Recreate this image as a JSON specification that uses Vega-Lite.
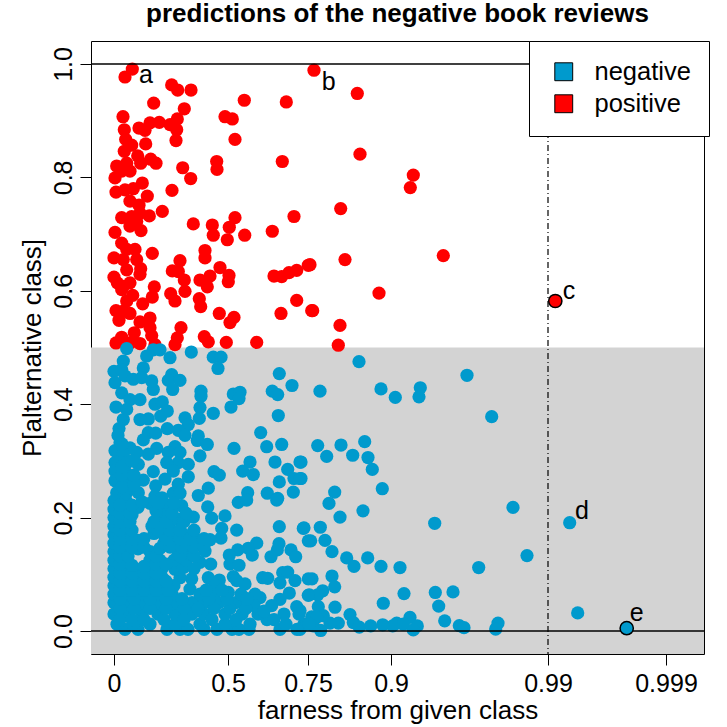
{"$schema":"https://vega.github.io/schema/vega-lite/v6.json","width":613,"height":613,"autosize":{"type":"none"},"padding":{"left":91,"top":41,"right":23,"bottom":73},"background":"white","title":{"text":"predictions of the negative book reviews","font":"Liberation Sans","fontSize":26,"fontWeight":"bold","color":"black","anchor":"middle","offset":13},
"config":{"view":{"stroke":"black","strokeWidth":1},"font":"Liberation Sans"},
"datasets":{"reviews":[
{"far":18.3,"p":0.991,"cls":"positive"},{"far":11,"p":0.977,"cls":"positive"},{"far":57.7,"p":0.963,"cls":"positive"},{"far":63.7,"p":0.954,"cls":"positive"},{"far":77,"p":0.954,"cls":"positive"},{"far":39.7,"p":0.931,"cls":"positive"},{"far":130.3,"p":0.936,"cls":"positive"},{"far":172.3,"p":0.933,"cls":"positive"},{"far":70.3,"p":0.921,"cls":"positive"},{"far":9,"p":0.907,"cls":"positive"},{"far":111,"p":0.907,"cls":"positive"},{"far":118.3,"p":0.903,"cls":"positive"},{"far":63.3,"p":0.903,"cls":"positive"},{"far":56,"p":0.893,"cls":"positive"},{"far":45.3,"p":0.897,"cls":"positive"},{"far":36,"p":0.896,"cls":"positive"},{"far":25,"p":0.887,"cls":"positive"},{"far":31,"p":0.883,"cls":"positive"},{"far":62.7,"p":0.884,"cls":"positive"},{"far":10.3,"p":0.884,"cls":"positive"},{"far":11.7,"p":0.867,"cls":"positive"},{"far":62,"p":0.865,"cls":"positive"},{"far":121,"p":0.867,"cls":"positive"},{"far":17.7,"p":0.857,"cls":"positive"},{"far":31.7,"p":0.859,"cls":"positive"},{"far":10.3,"p":0.846,"cls":"positive"},{"far":23.7,"p":0.838,"cls":"positive"},{"far":26.7,"p":0.825,"cls":"positive"},{"far":36.7,"p":0.832,"cls":"positive"},{"far":42,"p":0.825,"cls":"positive"},{"far":102.7,"p":0.828,"cls":"positive"},{"far":103,"p":0.814,"cls":"positive"},{"far":168.3,"p":0.828,"cls":"positive"},{"far":68.7,"p":0.817,"cls":"positive"},{"far":76.7,"p":0.798,"cls":"positive"},{"far":2.7,"p":0.82,"cls":"positive"},{"far":12.7,"p":0.825,"cls":"positive"},{"far":16,"p":0.811,"cls":"positive"},{"far":7.7,"p":0.811,"cls":"positive"},{"far":1,"p":0.799,"cls":"positive"},{"far":28.3,"p":0.79,"cls":"positive"},{"far":19.3,"p":0.78,"cls":"positive"},{"far":11,"p":0.778,"cls":"positive"},{"far":2,"p":0.774,"cls":"positive"},{"far":58,"p":0.777,"cls":"positive"},{"far":33.3,"p":0.767,"cls":"positive"},{"far":16,"p":0.758,"cls":"positive"},{"far":25,"p":0.751,"cls":"positive"},{"far":48.3,"p":0.74,"cls":"positive"},{"far":7.7,"p":0.729,"cls":"positive"},{"far":17.7,"p":0.731,"cls":"positive"},{"far":26,"p":0.737,"cls":"positive"},{"far":35.3,"p":0.732,"cls":"positive"},{"far":22.7,"p":0.722,"cls":"positive"},{"far":16,"p":0.714,"cls":"positive"},{"far":27,"p":0.706,"cls":"positive"},{"far":79.3,"p":0.718,"cls":"positive"},{"far":98.3,"p":0.716,"cls":"positive"},{"far":121,"p":0.729,"cls":"positive"},{"far":115.3,"p":0.712,"cls":"positive"},{"far":99.3,"p":0.698,"cls":"positive"},{"far":130.7,"p":0.698,"cls":"positive"},{"far":113.3,"p":0.69,"cls":"positive"},{"far":158.3,"p":0.705,"cls":"positive"},{"far":180,"p":0.731,"cls":"positive"},{"far":1,"p":0.703,"cls":"positive"},{"far":7.7,"p":0.684,"cls":"positive"},{"far":12.7,"p":0.673,"cls":"positive"},{"far":21,"p":0.673,"cls":"positive"},{"far":0,"p":0.658,"cls":"positive"},{"far":9.3,"p":0.655,"cls":"positive"},{"far":22.7,"p":0.655,"cls":"positive"},{"far":38.3,"p":0.666,"cls":"positive"},{"far":91,"p":0.671,"cls":"positive"},{"far":91,"p":0.658,"cls":"positive"},{"far":66,"p":0.653,"cls":"positive"},{"far":12.7,"p":0.637,"cls":"positive"},{"far":26.7,"p":0.639,"cls":"positive"},{"far":26,"p":0.629,"cls":"positive"},{"far":58.3,"p":0.635,"cls":"positive"},{"far":64.3,"p":0.634,"cls":"positive"},{"far":106,"p":0.641,"cls":"positive"},{"far":70.3,"p":0.619,"cls":"positive"},{"far":96,"p":0.626,"cls":"positive"},{"far":86,"p":0.619,"cls":"positive"},{"far":93.3,"p":0.607,"cls":"positive"},{"far":115,"p":0.627,"cls":"positive"},{"far":114.3,"p":0.616,"cls":"positive"},{"far":160,"p":0.626,"cls":"positive"},{"far":167.7,"p":0.625,"cls":"positive"},{"far":175,"p":0.632,"cls":"positive"},{"far":182.7,"p":0.636,"cls":"positive"},{"far":194.3,"p":0.645,"cls":"positive"},{"far":0,"p":0.624,"cls":"positive"},{"far":3.3,"p":0.614,"cls":"positive"},{"far":9.3,"p":0.608,"cls":"positive"},{"far":16,"p":0.614,"cls":"positive"},{"far":7.7,"p":0.602,"cls":"positive"},{"far":40.3,"p":0.607,"cls":"positive"},{"far":38.3,"p":0.589,"cls":"positive"},{"far":71,"p":0.599,"cls":"positive"},{"far":56.7,"p":0.595,"cls":"positive"},{"far":61,"p":0.582,"cls":"positive"},{"far":18.7,"p":0.592,"cls":"positive"},{"far":12.7,"p":0.582,"cls":"positive"},{"far":28.7,"p":0.577,"cls":"positive"},{"far":85.3,"p":0.586,"cls":"positive"},{"far":86.7,"p":0.572,"cls":"positive"},{"far":182.7,"p":0.583,"cls":"positive"},{"far":2,"p":0.565,"cls":"positive"},{"far":16,"p":0.56,"cls":"positive"},{"far":9.3,"p":0.564,"cls":"positive"},{"far":5,"p":0.548,"cls":"positive"},{"far":105.3,"p":0.56,"cls":"positive"},{"far":167,"p":0.56,"cls":"positive"},{"far":120,"p":0.553,"cls":"positive"},{"far":116,"p":0.544,"cls":"positive"},{"far":197.7,"p":0.565,"cls":"positive"},{"far":36,"p":0.552,"cls":"positive"},{"far":26,"p":0.545,"cls":"positive"},{"far":36,"p":0.535,"cls":"positive"},{"far":67,"p":0.535,"cls":"positive"},{"far":20.3,"p":0.526,"cls":"positive"},{"far":37.7,"p":0.521,"cls":"positive"},{"far":7.7,"p":0.518,"cls":"positive"},{"far":2,"p":0.508,"cls":"positive"},{"far":26,"p":0.507,"cls":"positive"},{"far":16,"p":0.508,"cls":"positive"},{"far":41,"p":0.505,"cls":"positive"},{"far":90.3,"p":0.519,"cls":"positive"},{"far":94.3,"p":0.51,"cls":"positive"},{"far":63.3,"p":0.517,"cls":"positive"},{"far":61,"p":0.505,"cls":"positive"},{"far":112.3,"p":0.509,"cls":"positive"},{"far":142.7,"p":0.509,"cls":"positive"},{"far":200,"p":0.989,"cls":"positive"},{"far":243.3,"p":0.948,"cls":"positive"},{"far":246,"p":0.841,"cls":"positive"},{"far":299.3,"p":0.804,"cls":"positive"},{"far":296.3,"p":0.782,"cls":"positive"},{"far":226.7,"p":0.745,"cls":"positive"},{"far":231,"p":0.655,"cls":"positive"},{"far":196,"p":0.646,"cls":"positive"},{"far":329.3,"p":0.662,"cls":"positive"},{"far":265,"p":0.596,"cls":"positive"},{"far":198.7,"p":0.565,"cls":"positive"},{"far":226,"p":0.539,"cls":"positive"},{"far":224.3,"p":0.504,"cls":"positive"},{"far":441.3,"p":0.582,"cls":"positive","highlight":true},
{"far":245,"p":0.475,"cls":"negative"},{"far":353,"p":0.451,"cls":"negative"},{"far":206,"p":0.423,"cls":"negative"},{"far":267,"p":0.427,"cls":"negative"},{"far":281.3,"p":0.412,"cls":"negative"},{"far":306.3,"p":0.429,"cls":"negative"},{"far":305,"p":0.413,"cls":"negative"},{"far":377.7,"p":0.378,"cls":"negative"},{"far":203.7,"p":0.327,"cls":"negative"},{"far":227,"p":0.328,"cls":"negative"},{"far":250.7,"p":0.334,"cls":"negative"},{"far":212.7,"p":0.308,"cls":"negative"},{"far":238.7,"p":0.31,"cls":"negative"},{"far":254,"p":0.306,"cls":"negative"},{"far":258.3,"p":0.285,"cls":"negative"},{"far":187,"p":0.298,"cls":"negative"},{"far":187,"p":0.269,"cls":"negative"},{"far":268.3,"p":0.251,"cls":"negative"},{"far":220.7,"p":0.245,"cls":"negative"},{"far":215,"p":0.225,"cls":"negative"},{"far":249,"p":0.212,"cls":"negative"},{"far":226,"p":0.201,"cls":"negative"},{"far":399,"p":0.218,"cls":"negative"},{"far":455.7,"p":0.191,"cls":"negative"},{"far":320.7,"p":0.19,"cls":"negative"},{"far":190,"p":0.182,"cls":"negative"},{"far":206.3,"p":0.183,"cls":"negative"},{"far":196.7,"p":0.159,"cls":"negative"},{"far":211,"p":0.16,"cls":"negative"},{"far":218,"p":0.14,"cls":"negative"},{"far":232.7,"p":0.129,"cls":"negative"},{"far":240,"p":0.114,"cls":"negative"},{"far":253.7,"p":0.129,"cls":"negative"},{"far":267,"p":0.114,"cls":"negative"},{"far":286,"p":0.112,"cls":"negative"},{"far":364.7,"p":0.112,"cls":"negative"},{"far":413,"p":0.133,"cls":"negative"},{"far":198,"p":0.092,"cls":"negative"},{"far":218,"p":0.097,"cls":"negative"},{"far":220.7,"p":0.078,"cls":"negative"},{"far":208.7,"p":0.071,"cls":"negative"},{"far":195.3,"p":0.064,"cls":"negative"},{"far":203.7,"p":0.064,"cls":"negative"},{"far":290,"p":0.066,"cls":"negative"},{"far":321.3,"p":0.068,"cls":"negative"},{"far":339,"p":0.069,"cls":"negative"},{"far":269.3,"p":0.049,"cls":"negative"},{"far":324.7,"p":0.044,"cls":"negative"},{"far":221,"p":0.042,"cls":"negative"},{"far":463.7,"p":0.032,"cls":"negative"},{"far":204.3,"p":0.043,"cls":"negative"},{"far":236,"p":0.029,"cls":"negative"},{"far":330.7,"p":0.018,"cls":"negative"},{"far":239.3,"p":0.015,"cls":"negative"},{"far":345.3,"p":0.0095,"cls":"negative"},{"far":350,"p":0.006,"cls":"negative"},{"far":384,"p":0.014,"cls":"negative"},{"far":381.7,"p":0.0035,"cls":"negative"},{"far":296,"p":0.024,"cls":"negative"},{"far":282.7,"p":0.014,"cls":"negative"},{"far":289.3,"p":0.012,"cls":"negative"},{"far":303.3,"p":0.009,"cls":"negative"},{"far":299.3,"p":0.002,"cls":"negative"},{"far":278.7,"p":0.009,"cls":"negative"},{"far":268.7,"p":0.011,"cls":"negative"},{"far":256.7,"p":0.009,"cls":"negative"},{"far":245.3,"p":0.007,"cls":"negative"},{"far":224.3,"p":0.014,"cls":"negative"},{"far":216,"p":0.014,"cls":"negative"},{"far":206.7,"p":0.001,"cls":"negative"},{"far":199.3,"p":0.009,"cls":"negative"},{"far":209.3,"p":0.027,"cls":"negative"},{"far":197.7,"p":0.025,"cls":"negative"},{"far":202.7,"p":0.024,"cls":"negative"},{"far":190,"p":0.012,"cls":"negative"},{"far":186,"p":0.036,"cls":"negative"},{"far":186,"p":0.003,"cls":"negative"},{"far":512.7,"p":0.005,"cls":"negative","highlight":true},
{"far":12.7,"p":0.498,"cls":"negative"},{"far":9.3,"p":0.476,"cls":"negative"},{"far":39.3,"p":0.496,"cls":"negative"},{"far":46,"p":0.496,"cls":"negative"},{"far":32.7,"p":0.485,"cls":"negative"},{"far":56,"p":0.482,"cls":"negative"},{"far":77.3,"p":0.492,"cls":"negative"},{"far":99.3,"p":0.483,"cls":"negative"},{"far":107,"p":0.483,"cls":"negative"},{"far":104,"p":0.463,"cls":"negative"},{"far":165.3,"p":0.454,"cls":"negative"},{"far":178,"p":0.433,"cls":"negative"},{"far":0,"p":0.458,"cls":"negative"},{"far":7.7,"p":0.461,"cls":"negative"},{"far":29.3,"p":0.464,"cls":"negative"},{"far":1,"p":0.438,"cls":"negative"},{"far":11,"p":0.45,"cls":"negative"},{"far":19.3,"p":0.444,"cls":"negative"},{"far":27.7,"p":0.447,"cls":"negative"},{"far":57.7,"p":0.452,"cls":"negative"},{"far":54.3,"p":0.442,"cls":"negative"},{"far":66,"p":0.442,"cls":"negative"},{"far":58.7,"p":0.426,"cls":"negative"},{"far":39.3,"p":0.426,"cls":"negative"},{"far":37.7,"p":0.441,"cls":"negative"},{"far":7.7,"p":0.42,"cls":"negative"},{"far":87,"p":0.423,"cls":"negative"},{"far":87,"p":0.414,"cls":"negative"},{"far":119.3,"p":0.418,"cls":"negative"},{"far":126,"p":0.421,"cls":"negative"},{"far":125,"p":0.41,"cls":"negative"},{"far":117,"p":0.395,"cls":"negative"},{"far":158.3,"p":0.423,"cls":"negative"},{"far":163.7,"p":0.417,"cls":"negative"},{"far":164.3,"p":0.38,"cls":"negative"},{"far":26,"p":0.408,"cls":"negative"},{"far":16,"p":0.408,"cls":"negative"},{"far":2,"p":0.395,"cls":"negative"},{"far":12.7,"p":0.391,"cls":"negative"},{"far":41,"p":0.4,"cls":"negative"},{"far":48.3,"p":0.404,"cls":"negative"},{"far":53.3,"p":0.388,"cls":"negative"},{"far":86,"p":0.394,"cls":"negative"},{"far":99.3,"p":0.384,"cls":"negative"},{"far":85.3,"p":0.375,"cls":"negative"},{"far":71,"p":0.376,"cls":"negative"},{"far":46.7,"p":0.379,"cls":"negative"},{"far":34.3,"p":0.374,"cls":"negative"},{"far":26,"p":0.373,"cls":"negative"},{"far":9.3,"p":0.373,"cls":"negative"},{"far":5,"p":0.357,"cls":"negative"},{"far":53.3,"p":0.357,"cls":"negative"},{"far":74.3,"p":0.364,"cls":"negative"},{"far":64.3,"p":0.354,"cls":"negative"},{"far":71,"p":0.345,"cls":"negative"},{"far":34.3,"p":0.35,"cls":"negative"},{"far":41.7,"p":0.349,"cls":"negative"},{"far":29.3,"p":0.337,"cls":"negative"},{"far":84.3,"p":0.344,"cls":"negative"},{"far":83.3,"p":0.336,"cls":"negative"},{"far":93.3,"p":0.329,"cls":"negative"},{"far":146.7,"p":0.35,"cls":"negative"},{"far":152.7,"p":0.325,"cls":"negative"},{"far":167.7,"p":0.329,"cls":"negative"},{"far":120,"p":0.322,"cls":"negative"},{"far":86,"p":0.309,"cls":"negative"},{"far":42.7,"p":0.322,"cls":"negative"},{"far":61,"p":0.325,"cls":"negative"},{"far":66,"p":0.315,"cls":"negative"},{"far":54.3,"p":0.315,"cls":"negative"},{"far":34.3,"p":0.312,"cls":"negative"},{"far":6,"p":0.332,"cls":"negative"},{"far":1,"p":0.318,"cls":"negative"},{"far":16,"p":0.323,"cls":"negative"},{"far":22.7,"p":0.315,"cls":"negative"},{"far":9.3,"p":0.312,"cls":"negative"},{"far":1,"p":0.297,"cls":"negative"},{"far":12.7,"p":0.297,"cls":"negative"},{"far":24.3,"p":0.294,"cls":"negative"},{"far":74.3,"p":0.294,"cls":"negative"},{"far":64.3,"p":0.297,"cls":"negative"},{"far":52.7,"p":0.297,"cls":"negative"},{"far":136,"p":0.298,"cls":"negative"},{"far":161,"p":0.298,"cls":"negative"},{"far":186,"p":0.298,"cls":"negative"},{"far":128.7,"p":0.282,"cls":"negative"},{"far":139.3,"p":0.276,"cls":"negative"},{"far":173.7,"p":0.285,"cls":"negative"},{"far":100,"p":0.281,"cls":"negative"},{"far":105.3,"p":0.275,"cls":"negative"},{"far":1,"p":0.282,"cls":"negative"},{"far":11,"p":0.282,"cls":"negative"},{"far":39.3,"p":0.281,"cls":"negative"},{"far":59.3,"p":0.282,"cls":"negative"},{"far":74.3,"p":0.272,"cls":"negative"},{"far":51,"p":0.268,"cls":"negative"},{"far":29.3,"p":0.266,"cls":"negative"},{"far":1,"p":0.265,"cls":"negative"},{"far":12.7,"p":0.265,"cls":"negative"},{"far":165.3,"p":0.263,"cls":"negative"},{"far":180,"p":0.269,"cls":"negative"},{"far":186,"p":0.269,"cls":"negative"},{"far":64.3,"p":0.259,"cls":"negative"},{"far":41.7,"p":0.256,"cls":"negative"},{"far":94.3,"p":0.252,"cls":"negative"},{"far":179.3,"p":0.245,"cls":"negative"},{"far":133.7,"p":0.244,"cls":"negative"},{"far":153.3,"p":0.243,"cls":"negative"},{"far":163.7,"p":0.234,"cls":"negative"},{"far":84.3,"p":0.239,"cls":"negative"},{"far":2.7,"p":0.244,"cls":"negative"},{"far":12.7,"p":0.244,"cls":"negative"},{"far":24.3,"p":0.244,"cls":"negative"},{"far":59.3,"p":0.243,"cls":"negative"},{"far":66,"p":0.243,"cls":"negative"},{"far":41,"p":0.238,"cls":"negative"},
{"far":93.7,"p":0.219,"cls":"negative"},{"far":97.7,"p":0.199,"cls":"negative"},{"far":111,"p":0.203,"cls":"negative"},{"far":107.7,"p":0.181,"cls":"negative"},{"far":122.7,"p":0.178,"cls":"negative"},{"far":107,"p":0.164,"cls":"negative"},{"far":96,"p":0.161,"cls":"negative"},{"far":79.3,"p":0.201,"cls":"negative"},{"far":124.3,"p":0.227,"cls":"negative"},{"far":132.7,"p":0.231,"cls":"negative"},{"far":162.7,"p":0.231,"cls":"negative"},{"far":165.3,"p":0.184,"cls":"negative"},{"far":189.3,"p":0.181,"cls":"negative"},{"far":194.3,"p":0.159,"cls":"negative"},{"far":142.7,"p":0.155,"cls":"negative"},{"far":165,"p":0.154,"cls":"negative"},{"far":163.3,"p":0.143,"cls":"negative"},{"far":177,"p":0.143,"cls":"negative"},{"far":181.7,"p":0.131,"cls":"negative"},{"far":157,"p":0.131,"cls":"negative"},{"far":138.3,"p":0.134,"cls":"negative"},{"far":134.3,"p":0.146,"cls":"negative"},{"far":123.7,"p":0.143,"cls":"negative"},{"far":115.3,"p":0.134,"cls":"negative"},{"far":116,"p":0.118,"cls":"negative"},{"far":125,"p":0.116,"cls":"negative"},{"far":96.7,"p":0.118,"cls":"negative"},{"far":86,"p":0.121,"cls":"negative"},{"far":91,"p":0.141,"cls":"negative"},{"far":79.3,"p":0.168,"cls":"negative"},{"far":74.3,"p":0.15,"cls":"negative"},{"far":94.3,"p":0.094,"cls":"negative"},{"far":105.3,"p":0.09,"cls":"negative"},{"far":119.3,"p":0.096,"cls":"negative"},{"far":148.7,"p":0.094,"cls":"negative"},{"far":153.7,"p":0.093,"cls":"negative"},{"far":168.7,"p":0.103,"cls":"negative"},{"far":173.7,"p":0.104,"cls":"negative"},{"far":166,"p":0.085,"cls":"negative"},{"far":181,"p":0.089,"cls":"negative"},{"far":175.3,"p":0.067,"cls":"negative"},{"far":194.3,"p":0.092,"cls":"negative"},{"far":194.3,"p":0.063,"cls":"negative"},{"far":166,"p":0.056,"cls":"negative"},{"far":182.7,"p":0.043,"cls":"negative"},{"far":157.7,"p":0.045,"cls":"negative"},{"far":146,"p":0.059,"cls":"negative"},{"far":141,"p":0.065,"cls":"negative"},{"far":131,"p":0.083,"cls":"negative"},{"far":122.7,"p":0.089,"cls":"negative"},{"far":114.3,"p":0.068,"cls":"negative"},{"far":101,"p":0.08,"cls":"negative"},{"far":77.7,"p":0.092,"cls":"negative"},{"far":76,"p":0.074,"cls":"negative"},{"far":66,"p":0.094,"cls":"negative"},{"far":61,"p":0.109,"cls":"negative"},{"far":69.3,"p":0.112,"cls":"negative"},{"far":52.7,"p":0.222,"cls":"negative"},{"far":44.3,"p":0.2,"cls":"negative"},{"far":36,"p":0.225,"cls":"negative"},{"far":67.7,"p":0.221,"cls":"negative"},{"far":64.3,"p":0.197,"cls":"negative"},{"far":56,"p":0.191,"cls":"negative"},
{"far":11,"p":0.003,"cls":"negative"},{"far":24,"p":0.003,"cls":"negative"},{"far":53,"p":0.003,"cls":"negative"},{"far":66,"p":0.003,"cls":"negative"},{"far":74,"p":0.003,"cls":"negative"},{"far":90,"p":0.003,"cls":"negative"},{"far":103,"p":0.003,"cls":"negative"},{"far":118,"p":0.003,"cls":"negative"},{"far":125,"p":0.003,"cls":"negative"},{"far":135,"p":0.003,"cls":"negative"},{"far":166,"p":0.003,"cls":"negative"},{"far":183,"p":0.003,"cls":"negative"},
{"far":3,"p":0.012,"cls":"negative"},{"far":19,"p":0.012,"cls":"negative"},{"far":36,"p":0.012,"cls":"negative"},{"far":61,"p":0.012,"cls":"negative"},{"far":86,"p":0.012,"cls":"negative"},{"far":111,"p":0.012,"cls":"negative"},{"far":136,"p":0.012,"cls":"negative"},{"far":153,"p":0.02,"cls":"negative"},{"far":172,"p":0.012,"cls":"negative"},{"far":195,"p":0.012,"cls":"negative"},
{"far":0,"p":0.03,"cls":"negative"},{"far":11,"p":0.03,"cls":"negative"},{"far":28,"p":0.03,"cls":"negative"},{"far":44,"p":0.03,"cls":"negative"},{"far":61,"p":0.03,"cls":"negative"},{"far":78,"p":0.03,"cls":"negative"},{"far":90,"p":0.03,"cls":"negative"},{"far":111,"p":0.03,"cls":"negative"},{"far":128,"p":0.03,"cls":"negative"},{"far":144,"p":0.03,"cls":"negative"},{"far":170,"p":0.03,"cls":"negative"},{"far":185,"p":0.03,"cls":"negative"},
{"far":0,"p":0.05,"cls":"negative"},{"far":11,"p":0.05,"cls":"negative"},{"far":28,"p":0.05,"cls":"negative"},{"far":44,"p":0.05,"cls":"negative"},{"far":61,"p":0.05,"cls":"negative"},{"far":78,"p":0.05,"cls":"negative"},{"far":90,"p":0.05,"cls":"negative"},{"far":105,"p":0.05,"cls":"negative"},{"far":122,"p":0.05,"cls":"negative"},{"far":140,"p":0.045,"cls":"negative"},
{"far":0,"p":0.065,"cls":"negative"},{"far":14,"p":0.065,"cls":"negative"},{"far":28,"p":0.065,"cls":"negative"},{"far":44,"p":0.065,"cls":"negative"},{"far":58,"p":0.065,"cls":"negative"},{"far":86,"p":0.065,"cls":"negative"},{"far":100,"p":0.065,"cls":"negative"},{"far":127,"p":0.065,"cls":"negative"},
{"far":0,"p":0.08,"cls":"negative"},{"far":11,"p":0.08,"cls":"negative"},{"far":24,"p":0.08,"cls":"negative"},{"far":36,"p":0.08,"cls":"negative"},{"far":48,"p":0.08,"cls":"negative"},{"far":60,"p":0.08,"cls":"negative"},
{"far":0,"p":0.095,"cls":"negative"},{"far":11,"p":0.095,"cls":"negative"},{"far":24,"p":0.095,"cls":"negative"},{"far":36,"p":0.095,"cls":"negative"},{"far":48,"p":0.095,"cls":"negative"},
{"far":0,"p":0.11,"cls":"negative"},{"far":11,"p":0.11,"cls":"negative"},{"far":24,"p":0.108,"cls":"negative"},{"far":36,"p":0.11,"cls":"negative"},{"far":48,"p":0.11,"cls":"negative"},{"far":80,"p":0.11,"cls":"negative"},
{"far":0,"p":0.125,"cls":"negative"},{"far":11,"p":0.125,"cls":"negative"},{"far":36,"p":0.125,"cls":"negative"},{"far":46,"p":0.125,"cls":"negative"},{"far":60,"p":0.125,"cls":"negative"},{"far":72,"p":0.125,"cls":"negative"},
{"far":0,"p":0.14,"cls":"negative"},{"far":12,"p":0.14,"cls":"negative"},{"far":24,"p":0.145,"cls":"negative"},{"far":36,"p":0.14,"cls":"negative"},{"far":64,"p":0.14,"cls":"negative"},{"far":76,"p":0.14,"cls":"negative"},
{"far":0,"p":0.155,"cls":"negative"},{"far":12,"p":0.155,"cls":"negative"},{"far":24,"p":0.16,"cls":"negative"},{"far":50,"p":0.155,"cls":"negative"},{"far":60,"p":0.155,"cls":"negative"},{"far":84,"p":0.158,"cls":"negative"},
{"far":0,"p":0.17,"cls":"negative"},{"far":12,"p":0.17,"cls":"negative"},{"far":40,"p":0.172,"cls":"negative"},{"far":50,"p":0.17,"cls":"negative"},{"far":60,"p":0.17,"cls":"negative"},{"far":70,"p":0.17,"cls":"negative"},
{"far":0,"p":0.185,"cls":"negative"},{"far":12,"p":0.185,"cls":"negative"},{"far":38,"p":0.185,"cls":"negative"},{"far":48,"p":0.185,"cls":"negative"},
{"far":0,"p":0.2,"cls":"negative"},{"far":12,"p":0.2,"cls":"negative"},{"far":18,"p":0.205,"cls":"negative"},{"far":52,"p":0.205,"cls":"negative"},
{"far":0,"p":0.215,"cls":"negative"},{"far":12,"p":0.215,"cls":"negative"},{"far":24,"p":0.218,"cls":"negative"},
{"far":0,"p":0.23,"cls":"negative"},{"far":12,"p":0.23,"cls":"negative"},{"far":48,"p":0.235,"cls":"negative"},
{"far":8,"p":0.255,"cls":"negative"},{"far":20,"p":0.258,"cls":"negative"},{"far":8,"p":0.275,"cls":"negative"},{"far":20,"p":0.275,"cls":"negative"},{"far":8,"p":0.29,"cls":"negative"},{"far":18,"p":0.3,"cls":"negative"},{"far":8,"p":0.33,"cls":"negative"},{"far":4,"p":0.345,"cls":"negative"},
{"far":6,"p":0.02,"cls":"negative"},{"far":18,"p":0.02,"cls":"negative"},{"far":30,"p":0.02,"cls":"negative"},{"far":50,"p":0.02,"cls":"negative"},{"far":70,"p":0.02,"cls":"negative"},{"far":98,"p":0.02,"cls":"negative"},{"far":122,"p":0.02,"cls":"negative"},{"far":160,"p":0.02,"cls":"negative"},
{"far":6,"p":0.04,"cls":"negative"},{"far":20,"p":0.04,"cls":"negative"},{"far":36,"p":0.04,"cls":"negative"},{"far":52,"p":0.04,"cls":"negative"},{"far":70,"p":0.04,"cls":"negative"},{"far":84,"p":0.04,"cls":"negative"},{"far":100,"p":0.04,"cls":"negative"},{"far":116,"p":0.04,"cls":"negative"},{"far":132,"p":0.04,"cls":"negative"},{"far":150,"p":0.035,"cls":"negative"},
{"far":6,"p":0.057,"cls":"negative"},{"far":20,"p":0.057,"cls":"negative"},{"far":36,"p":0.057,"cls":"negative"},{"far":52,"p":0.057,"cls":"negative"},{"far":68,"p":0.057,"cls":"negative"},{"far":95,"p":0.057,"cls":"negative"},{"far":113,"p":0.057,"cls":"negative"},{"far":133,"p":0.057,"cls":"negative"},
{"far":6,"p":0.072,"cls":"negative"},{"far":18,"p":0.072,"cls":"negative"},{"far":30,"p":0.072,"cls":"negative"},{"far":42,"p":0.072,"cls":"negative"},{"far":54,"p":0.072,"cls":"negative"},{"far":92,"p":0.072,"cls":"negative"},{"far":108,"p":0.072,"cls":"negative"},
{"far":6,"p":0.088,"cls":"negative"},{"far":18,"p":0.088,"cls":"negative"},{"far":30,"p":0.088,"cls":"negative"},{"far":42,"p":0.088,"cls":"negative"},{"far":52,"p":0.088,"cls":"negative"},
{"far":6,"p":0.102,"cls":"negative"},{"far":18,"p":0.102,"cls":"negative"},{"far":30,"p":0.102,"cls":"negative"},{"far":42,"p":0.102,"cls":"negative"},
{"far":6,"p":0.118,"cls":"negative"},{"far":18,"p":0.116,"cls":"negative"},{"far":30,"p":0.114,"cls":"negative"},{"far":42,"p":0.118,"cls":"negative"},{"far":52,"p":0.118,"cls":"negative"},
{"far":6,"p":0.132,"cls":"negative"},{"far":14,"p":0.132,"cls":"negative"},{"far":42,"p":0.132,"cls":"negative"},{"far":66,"p":0.132,"cls":"negative"},{"far":80,"p":0.132,"cls":"negative"},
{"far":6,"p":0.148,"cls":"negative"},{"far":18,"p":0.148,"cls":"negative"},{"far":30,"p":0.148,"cls":"negative"},{"far":46,"p":0.146,"cls":"negative"},{"far":56,"p":0.148,"cls":"negative"},{"far":68,"p":0.148,"cls":"negative"},{"far":80,"p":0.148,"cls":"negative"},{"far":90,"p":0.15,"cls":"negative"},
{"far":6,"p":0.163,"cls":"negative"},{"far":18,"p":0.163,"cls":"negative"},{"far":30,"p":0.163,"cls":"negative"},{"far":52,"p":0.163,"cls":"negative"},{"far":66,"p":0.163,"cls":"negative"},{"far":76,"p":0.163,"cls":"negative"},{"far":90,"p":0.163,"cls":"negative"},
{"far":6,"p":0.178,"cls":"negative"},{"far":18,"p":0.178,"cls":"negative"},{"far":44,"p":0.178,"cls":"negative"},{"far":56,"p":0.178,"cls":"negative"},{"far":66,"p":0.178,"cls":"negative"},{"far":80,"p":0.178,"cls":"negative"},
{"far":6,"p":0.193,"cls":"negative"},{"far":16,"p":0.193,"cls":"negative"},{"far":40,"p":0.193,"cls":"negative"},{"far":52,"p":0.193,"cls":"negative"},{"far":70,"p":0.193,"cls":"negative"},
{"far":6,"p":0.208,"cls":"negative"},{"far":16,"p":0.208,"cls":"negative"},{"far":42,"p":0.212,"cls":"negative"},{"far":58,"p":0.208,"cls":"negative"},{"far":72,"p":0.208,"cls":"negative"},
{"far":6,"p":0.222,"cls":"negative"},{"far":18,"p":0.222,"cls":"negative"},{"far":28,"p":0.228,"cls":"negative"},{"far":44,"p":0.226,"cls":"negative"},{"far":60,"p":0.226,"cls":"negative"}
],"labels":[{"far":32,"p":0.981,"lab":"a"},{"far":214.7,"p":0.968,"lab":"b"},{"far":455,"p":0.6,"lab":"c"},{"far":468,"p":0.212,"lab":"d"},{"far":522.7,"p":0.032,"lab":"e"}],"band":[{"upper":0.5,"lower":-0.0405}],"hrules":[{"p":0},{"p":1}],"vrules":[{"far":434}]},
"data":{"name":"reviews"},
"layer":[
{"data":{"name":"band"},"mark":{"type":"rect","color":"#D3D3D3"},"encoding":{"y":{"field":"upper","type":"quantitative","scale":{"domain":[-0.0405,1.0405],"nice":false,"zero":false}},"y2":{"field":"lower"}}},
{"mark":{"type":"point","filled":true,"size":175,"opacity":1,"shape":"circle"},"encoding":{
"x":{"field":"far","type":"quantitative","scale":{"domain":[-23,590],"nice":false,"zero":false},"axis":{"values":[0,114,194,277,434,552],"labelExpr":"datum.value==0?'0':datum.value==114?'0.5':datum.value==194?'0.75':datum.value==277?'0.9':datum.value==434?'0.99':'0.999'","title":"farness from given class","titleFont":"Liberation Sans","titleFontSize":26,"titleFontWeight":"normal","titleColor":"black","titlePadding":1,"labelFont":"Liberation Sans","labelFontSize":25,"labelColor":"black","labelPadding":6,"tickSize":11,"tickColor":"black","domain":false,"grid":false,"labelOverlap":false,"labelFlush":false}},
"y":{"field":"p","type":"quantitative","scale":{"domain":[-0.0405,1.0405],"nice":false,"zero":false},"axis":{"values":[0,0.2,0.4,0.6,0.8,1],"format":".1f","title":"P[alternative class]","titleFont":"Liberation Sans","titleFontSize":26,"titleFontWeight":"normal","titleColor":"black","titlePadding":6,"labelFont":"Liberation Sans","labelFontSize":25,"labelColor":"black","labelAngle":-90,"labelAlign":"center","labelBaseline":"bottom","labelPadding":4,"tickSize":11,"tickColor":"black","domain":false,"grid":false,"labelOverlap":false}},
"color":{"field":"cls","type":"nominal","scale":{"domain":["negative","positive"],"range":["#009ACD","#FF0000"]},"legend":{"title":null,"orient":"none","legendX":438,"legendY":0,"fillColor":"white","strokeColor":"black","padding":18,"cornerRadius":0,"symbolType":"square","symbolSize":320,"symbolStrokeColor":"black","symbolStrokeWidth":1,"symbolOpacity":1,"labelFont":"Liberation Sans","labelFontSize":25.5,"labelColor":"black","labelOffset":18,"rowPadding":5,"symbolOffset":4}}}},
{"data":{"name":"hrules"},"mark":{"type":"rule","color":"black","strokeWidth":1.4},"encoding":{"y":{"field":"p","type":"quantitative"}}},
{"data":{"name":"vrules"},"mark":{"type":"rule","color":"black","strokeWidth":1.2,"strokeDash":[6,3,1,3]},"encoding":{"x":{"field":"far","type":"quantitative"}}},
{"transform":[{"filter":"datum.highlight===true"}],"mark":{"type":"point","filled":true,"size":175,"opacity":1,"shape":"circle","stroke":"black","strokeWidth":1.5},"encoding":{"x":{"field":"far","type":"quantitative"},"y":{"field":"p","type":"quantitative"},"color":{"field":"cls","type":"nominal"}}},
{"data":{"name":"labels"},"mark":{"type":"text","font":"Liberation Sans","fontSize":25,"color":"black","align":"center","baseline":"middle"},"encoding":{"x":{"field":"far","type":"quantitative"},"y":{"field":"p","type":"quantitative"},"text":{"field":"lab"}}}
]}
